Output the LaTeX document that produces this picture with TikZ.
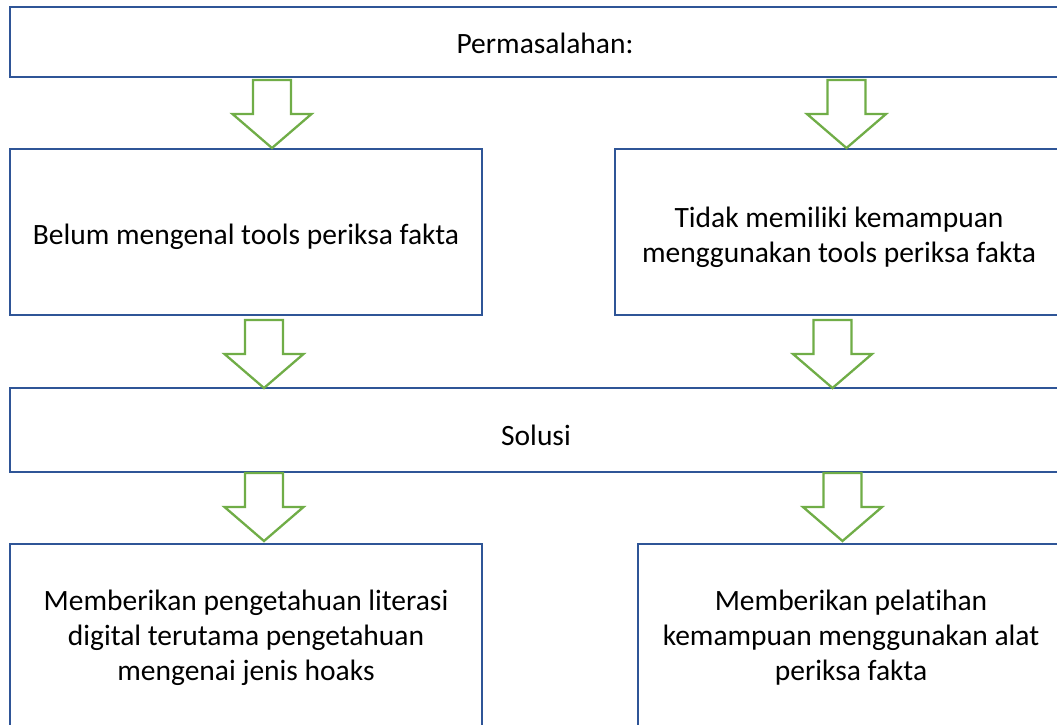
\documentclass[tikz,border=0pt]{standalone}
\usepackage{fontspec}
\setmainfont[Ligatures=NoCommon]{Carlito}
\begin{document}
\begin{tikzpicture}[x=1pt,y=-1pt,
  box/.style={draw=boxblue,line width=2.6pt,fill=white},
  lbl/.style={inner sep=0pt,align=center,font=\fontsize{29.5}{35}\selectfont},
  barrow/.style={draw=arrgreen,line width=2.3pt,fill=white,line join=miter}]
\definecolor{boxblue}{HTML}{2F5597}
\definecolor{arrgreen}{HTML}{70AD47}
\useasboundingbox (0,0) rectangle (1057,724);
\clip (0,0) rectangle (1057,724);
% boxes
\draw[box] (10,7) rectangle (1063,77);
\node[lbl] (p) at (545,43) {Permasalahan:};
\draw[box] (10,149) rectangle (482,315);
\node[lbl] (b1) at (246,237) {Belum mengenal tools periksa fakta};
\draw[box] (615,149) rectangle (1063,315);
\node[lbl] (b2) at (839,237) {Tidak memiliki kemampuan\\menggunakan tools periksa fakta};
\draw[box] (10,388) rectangle (1063,472);
\node[lbl] (s) at (536,435) {Solusi};
\draw[box] (10,544) rectangle (482,740);
\node[lbl] (c1) at (246,638) {Memberikan pengetahuan literasi\\digital terutama pengetahuan\\mengenai jenis hoaks};
\draw[box] (638,544) rectangle (1063,740);
\node[lbl] (c2) at (851,638) {Memberikan pelatihan\\kemampuan menggunakan alat\\periksa fakta};
% block arrows: centre x, top y, tip y
\newcommand{\blockarrow}[3]{%
  \draw[barrow] (#1-19,#2) -- (#1+19,#2) -- (#1+19,#2+34) -- (#1+39.5,#2+34)
    -- (#1,#3) -- (#1-39.5,#2+34) -- (#1-19,#2+34) -- cycle;}
\blockarrow{272}{80}{148}
\blockarrow{846.5}{80}{148}
\blockarrow{264}{320}{388}
\blockarrow{832.5}{320}{388}
\blockarrow{264}{473}{541}
\blockarrow{842.5}{473}{541}
\end{tikzpicture}
\end{document}
